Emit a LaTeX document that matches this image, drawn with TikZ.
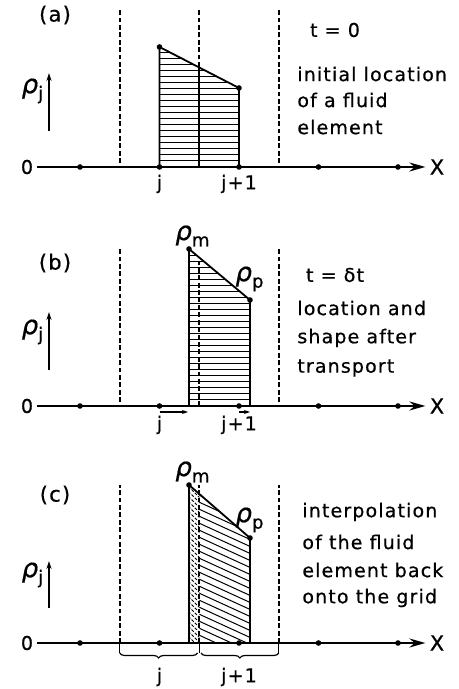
\documentclass[tikz,border=0pt]{standalone}
\usepackage{amsmath}
\usepackage{fontspec}
\setmainfont[LetterSpace=6,FakeBold=0.6]{DejaVu Sans}
\usepackage{tikz}
\usetikzlibrary{arrows.meta,decorations.pathreplacing}
\newcommand{\rhosub}[1]{$\text{\itshape ρ}_{\text{#1}}$}
\tikzset{
  every node/.style={font=\fontsize{9.5}{11}\selectfont,inner sep=2pt},
  axisline/.style={line width=1pt,-{Stealth[length=8pt,width=4.5pt]}},
  rhoaxis/.style={line width=0.8pt,-{Stealth[length=4pt,width=2.6pt]}},
  cellbound/.style={line width=0.8pt,dash pattern=on 2.4pt off 1.3pt},
  gridpt/.style={circle,fill=black,inner sep=0pt,minimum size=2.8pt},
  fluidel/.style={line width=0.9pt,line join=round},
  hatch/.style={line width=0.5pt},
  finehatch/.style={line width=0.4pt,dash pattern=on 1.5pt off 0.8pt},
  shiftarrow/.style={line width=0.6pt,-{Stealth[length=3pt,width=2pt]}},
  cellbrace/.style={line width=0.6pt,decorate,decoration={brace,mirror,amplitude=2.5pt}},
  panellabel/.style={font=\fontsize{10.5}{12}\selectfont},
  desc/.style={anchor=west},
  rholabel/.style={font=\fontsize{13}{14}\selectfont,inner sep=0pt}
}
\begin{document}
\begin{tikzpicture}[x=0.5pt,y=0.5pt]
\useasboundingbox (0,0) rectangle (459,689);
% ---------- (a) initial location, t = 0 ----------
\begin{scope}[shift={(0,522)}]
  \node[panellabel] (labA) at (55,152) {(a)};
  \node (Oa) at (27,0) {0};
  \node[font=\fontsize{10.5}{12}\selectfont] (Xa) at (437,0) {X};
  \foreach \x in {119.75,199.25,278.75}
    \draw[cellbound] (\x,4) -- (\x,159);
  \coordinate (aBL) at (159.5,0);
  \coordinate (aTL) at (159.5,120);
  \coordinate (aTR) at (239,79);
  \coordinate (aBR) at (239,0);
  \begin{scope}
    \clip (aBL) -- (aTL) -- (aTR) -- (aBR) -- cycle;
    \foreach \y in {6,12,...,120}
      \draw[hatch] (150,\y) -- (250,\y);
    \draw[cellbound] (199.25,0) -- (199.25,159);
  \end{scope}
  \draw[axisline] (Oa.east) -- (Xa.west);
  \draw[fluidel] (aBL) -- (aTL) -- (aTR) -- (aBR);
  \foreach \i/\x in {1/80,2/159.5,3/239,4/318.5,5/398}
    \node[gridpt] (a\i) at (\x,0) {};
  \node[gridpt] (aM) at (aTL) {};
  \node[gridpt] (aP) at (aTR) {};
  \node (ja) at (159.5,-17) {j};
  \node (jpa) at (239,-17) {j+1};
  % density axis
  \coordinate (ra0) at (49,36);
  \coordinate (ra1) at (49,94);
  \draw[rhoaxis] (ra0) -- (ra1);
  \node[rholabel] (rhoa) at (33,76) {\rhosub{j}};
  % description
  \node (ta) at (335,137) {t = 0};
  \node[desc] (da1) at (293,93) {initial location};
  \node[desc] (da2) at (293,67) {of a fluid};
  \node[desc] (da3) at (293,40) {element};
\end{scope}
% ---------- (b) after transport, t = dt ----------
\begin{scope}[shift={(0,283)}]
  \node[panellabel] (labB) at (55,143) {(b)};
  \node (Ob) at (27,0) {0};
  \node[font=\fontsize{10.5}{12}\selectfont] (Xb) at (437,0) {X};
  \foreach \x in {119.75,278.75}
    \draw[cellbound] (\x,4) -- (\x,158);
  \coordinate (bBL) at (189,0);
  \coordinate (bTL) at (189,157);
  \coordinate (bTR) at (250,106);
  \coordinate (bBR) at (250,0);
  \begin{scope}
    \clip (bBL) -- (bTL) -- (bTR) -- (bBR) -- cycle;
    \foreach \y in {6,12,...,156}
      \draw[hatch] (180,\y) -- (260,\y);
    \draw[cellbound] (199.25,0) -- (199.25,158);
  \end{scope}
  \draw[axisline] (Ob.east) -- (Xb.west);
  \draw[fluidel] (bBL) -- (bTL) -- (bTR) -- (bBR);
  \foreach \i/\x in {1/80,2/159.5,3/239,4/318.5,5/398}
    \node[gridpt] (b\i) at (\x,0) {};
  \node[gridpt] (bM) at (bTL) {};
  \node[gridpt] (bP) at (bTR) {};
  % displacement of the end points
  \coordinate (sb1) at (159.5,-6);
  \coordinate (eb1) at (188,-6);
  \coordinate (sb2) at (239,-6);
  \coordinate (eb2) at (250,-6);
  \draw[shiftarrow] (sb1) -- (eb1);
  \draw[shiftarrow] (sb2) -- (eb2);
  \node (jb) at (159.5,-19) {j};
  \node (jpb) at (239,-19) {j+1};
  \node[rholabel] (rhomb) at (193,170) {\rhosub{m}};
  \node[rholabel] (rhopb) at (250,127) {\rhosub{p}};
  % density axis
  \coordinate (rb0) at (49,36);
  \coordinate (rb1) at (49,94);
  \draw[rhoaxis] (rb0) -- (rb1);
  \node[rholabel] (rhob) at (33,74) {\rhosub{j}};
  % description
  \node (tb) at (335,131) {t = δt};
  \node[desc] (db1) at (293,98) {location and};
  \node[desc] (db2) at (293,68) {shape after};
  \node[desc] (db3) at (293,38) {transport};
\end{scope}
% ---------- (c) interpolation back onto the grid ----------
\begin{scope}[shift={(0,46)}]
  \node[panellabel] (labC) at (55,148) {(c)};
  \node (Oc) at (27,0) {0};
  \node[font=\fontsize{10.5}{12}\selectfont] (Xc) at (437,0) {X};
  \coordinate (cBL) at (189,0);
  \coordinate (cTL) at (189,158);
  \coordinate (cTR) at (250,105);
  \coordinate (cBR) at (250,0);
  % part that goes to cell j+1
  \begin{scope}
    \clip (cBL) -- (cTL) -- (cTR) -- (cBR) -- cycle;
    \clip (199.25,0) rectangle (260,170);
    \foreach \c in {-30,-23,...,200}
      \draw[hatch] (190,\c) -- (260,\c-32);
  \end{scope}
  % part that stays in cell j
  \begin{scope}
    \clip (cBL) -- (cTL) -- (cTR) -- (cBR) -- cycle;
    \clip (189,0) rectangle (199.25,170);
    \foreach \c in {-10,-5,...,175}
      \draw[finehatch] (185,\c) -- (205,\c-20);
  \end{scope}
  \foreach \x in {119.75,199.25,278.75}
    \draw[cellbound] (\x,0) -- (\x,158);
  \draw[axisline] (Oc.east) -- (Xc.west);
  \draw[fluidel] (cBL) -- (cTL) -- (cTR) -- (cBR);
  \foreach \i/\x in {1/80,2/159.5,3/239,4/318.5,5/398}
    \node[gridpt] (c\i) at (\x,0) {};
  \node[gridpt] (cM) at (cTL) {};
  \node[gridpt] (cP) at (cTR) {};
  \node[rholabel] (rhomc) at (193,171) {\rhosub{m}};
  \node[rholabel] (rhopc) at (250,123) {\rhosub{p}};
  % the two cells
  \draw[line width=0.6pt] (119.75,0) -- (119.75,-10);
  \draw[line width=0.6pt] (199.25,0) -- (199.25,-10);
  \draw[line width=0.6pt] (278.75,0) -- (278.75,-10);
  \draw[cellbrace] (119.75,-10) -- (197.5,-10);
  \draw[cellbrace] (201,-10) -- (278.75,-10);
  \node (jc) at (159.5,-34) {j};
  \node (jpc) at (239,-34) {j+1};
  % density axis
  \coordinate (rc0) at (49,35);
  \coordinate (rc1) at (49,82);
  \draw[rhoaxis] (rc0) -- (rc1);
  \node[rholabel] (rhoc) at (33,68) {\rhosub{j}};
  % description
  \node[desc] (dc1) at (298,131) {interpolation};
  \node[desc] (dc2) at (298,101) {of the fluid};
  \node[desc] (dc3) at (298,73) {element back};
  \node[desc] (dc4) at (298,45) {onto the grid};
\end{scope}
\end{tikzpicture}
\end{document}
